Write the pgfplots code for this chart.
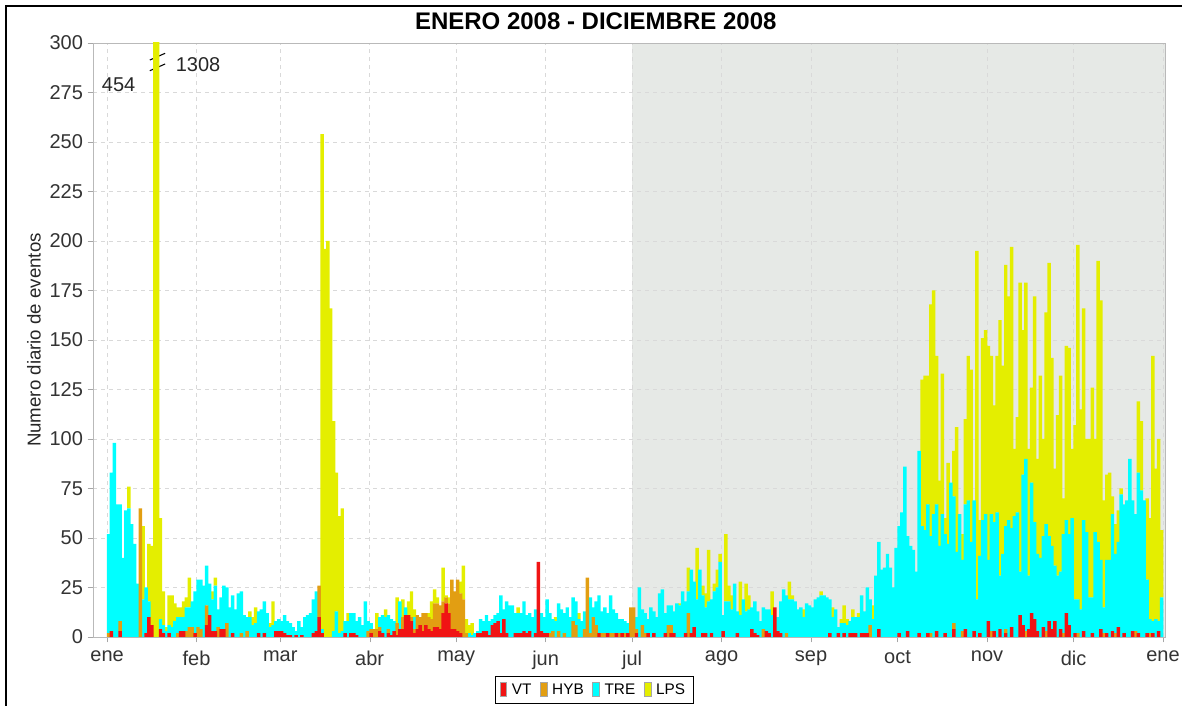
\documentclass[border=0pt]{standalone}
\usepackage{pgfplots}
\pgfplotsset{compat=1.18}
\usepackage{pgfplotstable}
\usepackage{fontspec}
\setmainfont{Liberation Sans}

\definecolor{vtc}{RGB}{240,20,20}
\definecolor{hybc}{RGB}{226,158,18}
\definecolor{trec}{RGB}{0,255,255}
\definecolor{lpsc}{RGB}{228,238,0}
\definecolor{bgshade}{RGB}{230,233,230}

% day vt hyb tre lps  (day 0 = 1 ene 2008)
\pgfplotstableread{
d vt hyb tre lps
0 0 2 50 0
1 3 0 80 0
2 0 0 98 0
3 0 0 67 0
4 3 5 59 0
5 0 0 40 0
6 0 0 64 0
7 0 0 65 11
8 0 0 57 0
9 0 0 47 0
10 0 0 27 0
11 0 65 0 0
12 0 0 19 37
13 2 0 23 0
14 10 0 8 29
15 6 0 0 40
16 0 0 0 454
17 0 0 0 1308
18 4 0 5 51
19 2 0 4 17
20 0 0 3 2
21 2 0 4 15
22 0 0 5 16
23 0 0 8 9
24 0 2 8 5
25 3 0 7 5
26 3 0 7 8
27 0 3 12 5
28 0 5 10 15
29 0 5 13 0
30 2 0 21 0
31 0 5 24 0
32 0 4 25 0
33 0 0 26 0
34 6 10 20 0
35 11 0 16 0
36 3 0 16 4
37 3 0 23 4
38 0 5 9 0
39 4 0 16 0
40 4 0 22 0
41 0 7 18 0
42 0 0 15 0
43 2 0 19 0
44 0 0 14 0
45 0 0 22 0
46 0 2 21 0
47 0 0 11 0
48 0 3 7 0
49 0 0 10 3
50 0 0 6 4
51 0 0 7 8
52 2 0 11 0
53 0 0 14 0
54 2 0 16 0
55 0 0 12 0
56 0 0 5 2
57 0 0 6 12
58 3 0 5 0
59 3 0 6 0
60 3 0 5 0
61 2 0 9 0
62 1 0 7 0
63 1 0 6 0
64 0 0 5 0
65 1 0 2 0
66 0 0 8 0
67 1 0 4 0
68 0 0 10 0
69 0 0 11 0
70 0 0 12 0
71 2 0 17 0
72 3 0 20 0
73 10 16 0 0
74 2 0 2 250
75 0 0 0 196
76 0 0 0 200
77 0 0 0 166
78 0 0 3 106
79 0 0 13 70
80 0 0 2 59
81 0 0 3 62
82 2 0 6 0
83 0 0 8 4
84 2 0 10 0
85 2 0 10 0
86 1 0 7 0
87 0 0 10 0
88 0 0 6 0
89 0 0 18 0
90 0 3 5 0
91 2 2 3 0
92 0 4 0 0
93 0 4 0 8
94 3 2 5 0
95 2 0 9 0
96 0 0 10 4
97 2 2 7 0
98 1 0 8 0
99 3 0 5 0
100 1 6 0 13
101 4 0 14 0
102 4 6 0 9
103 11 0 4 0
104 11 0 0 7
105 8 2 0 13
106 2 2 6 4
107 4 7 0 0
108 6 4 0 0
109 3 9 0 0
110 6 6 0 0
111 4 6 0 2
112 3 6 0 9
113 5 12 0 7
114 5 12 0 3
115 4 12 0 0
116 12 6 0 17
117 17 3 0 1
118 12 5 0 3
119 4 25 0 0
120 4 19 0 0
121 3 26 0 0
122 2 20 0 6
123 0 19 0 17
124 0 2 0 7
125 0 0 2 4
126 0 0 1 6
127 0 0 2 0
128 2 0 1 0
129 2 0 7 0
130 3 0 5 0
131 3 0 8 0
132 1 0 7 0
133 6 0 3 0
134 7 0 4 0
135 8 0 4 0
136 2 0 19 0
137 9 0 5 0
138 2 0 16 0
139 0 0 16 0
140 0 0 16 0
141 2 0 10 0
142 2 0 10 3
143 2 0 10 0
144 3 0 15 0
145 2 0 9 0
146 3 0 9 0
147 0 0 10 0
148 2 0 12 0
149 38 0 0 0
150 3 0 9 0
151 2 0 8 0
152 2 0 17 0
153 0 2 10 0
154 0 3 6 0
155 0 0 8 2
156 0 3 14 0
157 0 0 14 0
158 0 2 10 0
159 0 0 15 0
160 0 0 10 0
161 0 8 12 0
162 0 6 12 0
163 0 0 9 3
164 0 0 8 0
165 0 4 9 0
166 0 30 0 0
167 0 2 18 0
168 0 10 5 0
169 0 6 12 0
170 2 0 19 0
171 0 2 11 0
172 0 2 13 0
173 2 0 10 0
174 0 2 19 0
175 0 2 12 0
176 2 0 10 0
177 0 2 7 0
178 2 0 7 0
179 0 2 6 0
180 2 0 5 0
181 0 15 0 0
182 0 15 0 0
183 2 2 6 0
184 0 0 25 0
185 0 6 8 0
186 0 2 10 0
187 2 0 7 0
188 0 0 15 0
189 2 0 11 0
190 0 0 10 0
191 0 0 22 0
192 0 0 24 0
193 2 0 10 0
194 0 6 10 0
195 2 4 10 0
196 2 0 11 0
197 0 0 17 0
198 0 0 16 1
199 0 0 23 0
200 2 0 16 0
201 0 12 11 12
202 2 0 32 0
203 5 0 23 0
204 0 0 19 26
205 0 0 34 0
206 2 0 19 5
207 2 0 13 7
208 0 0 18 26
209 2 0 17 0
210 0 0 23 4
211 0 0 25 9
212 0 0 38 4
213 3 0 8 0
214 0 0 18 34
215 0 0 18 8
216 0 0 14 7
217 0 0 27 0
218 2 0 11 0
219 0 0 11 17
220 0 0 19 0
221 0 0 13 14
222 0 0 14 7
223 4 0 11 0
224 2 0 16 0
225 1 0 12 0
226 0 0 8 0
227 0 4 11 0
228 3 0 11 0
229 2 0 12 0
230 0 0 11 12
231 15 0 0 0
232 3 0 7 0
233 2 0 16 0
234 0 0 24 0
235 0 2 19 0
236 0 0 19 9
237 0 0 19 2
238 0 0 18 0
239 0 0 14 0
240 0 0 15 0
241 0 0 10 4
242 0 0 17 0
243 0 0 16 0
244 0 0 15 0
245 0 0 19 0
246 0 0 20 0
247 0 0 21 2
248 0 0 21 0
249 0 0 20 0
250 2 0 17 0
251 0 0 10 5
252 0 0 14 0
253 2 0 3 0
254 0 0 7 2
255 2 0 5 9
256 0 0 6 3
257 2 0 6 0
258 2 0 8 4
259 2 0 8 0
260 0 0 10 2
261 2 0 19 0
262 2 0 11 0
263 2 0 23 0
264 0 6 13 0
265 0 0 9 7
266 0 0 31 0
267 4 0 44 0
268 0 0 34 0
269 0 0 35 0
270 0 0 42 0
271 0 0 35 0
272 0 0 25 0
273 0 0 45 0
274 2 0 54 0
275 0 0 63 0
276 0 0 86 0
277 3 0 48 0
278 0 0 46 0
279 0 0 44 0
280 0 0 33 0
281 2 0 92 0
282 0 0 56 74
283 0 0 54 78
284 2 0 65 65
285 0 2 49 117
286 0 0 62 113
287 3 0 64 75
288 0 0 46 33
289 0 0 62 71
290 2 0 50 8
291 0 0 47 41
292 0 0 78 0
293 4 3 64 23
294 0 0 43 63
295 0 0 62 0
296 0 3 36 13
297 4 0 63 43
298 0 0 69 73
299 0 0 48 87
300 3 0 66 0
301 0 0 19 176
302 2 0 39 18
303 0 0 59 92
304 0 0 62 93
305 8 0 31 108
306 0 3 59 80
307 3 0 55 59
308 0 0 63 79
309 4 0 27 129
310 0 0 42 95
311 2 2 52 132
312 0 0 59 113
313 5 0 50 142
314 0 0 61 34
315 0 0 63 48
316 11 0 22 146
317 6 0 76 73
318 0 3 87 89
319 4 0 27 64
320 12 0 66 48
321 9 0 49 114
322 3 0 39 48
323 0 0 40 92
324 5 0 46 49
325 0 3 54 107
326 8 0 43 138
327 4 0 42 95
328 8 0 28 49
329 0 0 31 81
330 4 0 29 99
331 0 2 50 18
332 12 0 47 88
333 6 0 46 94
334 0 0 60 35
335 2 0 17 88
336 0 2 17 179
337 0 0 14 101
338 3 0 56 107
339 0 0 53 47
340 0 0 20 80
341 2 0 18 106
342 0 0 53 47
343 0 0 48 142
344 4 0 35 131
345 0 2 13 54
346 2 0 37 43
347 0 0 39 44
348 3 0 59 9
349 0 2 40 15
350 5 0 43 16
351 0 0 72 3
352 2 0 65 0
353 0 0 69 0
354 0 0 90 0
355 3 0 66 0
356 0 3 59 0
357 2 0 81 36
358 0 0 74 35
359 0 0 69 0
360 2 0 27 41
361 0 2 7 51
362 2 0 6 134
363 0 0 9 76
364 3 0 5 92
365 0 0 20 34
}\daily

\pgfplotsset{
  frame/.style={
    scale only axis,
    width=804pt, height=445.5pt,
    xmin=-4.9, xmax=366.7,
    ymin=0, ymax=300,
    enlargelimits=false,
    xtick={0,31,60,91,121,152,182,213,244,274,305,335,366},
    ytick={0,25,...,300},
  },
}

\begin{document}
\begin{tikzpicture}
% page = 1182 x 706 px at 0.75pt/px, axis box at px (93..1165, 43..637)
\path[use as bounding box] (-69.75pt,-51.75pt) rectangle (816.75pt,477.75pt);
\draw[black, line width=1.1pt] (-65.25pt,-51.75pt) -- (-65.25pt,473.25pt) -- (816.75pt,473.25pt);

% background: shaded second half of the year and dashed grid on top of it
\begin{axis}[
    frame,
    axis on top,
    grid=major,
    major grid style={dashed, gray!30},
    xticklabels={}, yticklabels={},
    axis line style={draw=none},
    tick style={draw=none},
  ]
  \fill[bgshade] (axis cs:182,0) rectangle (axis cs:366.7,300);
\end{axis}

\begin{axis}[
    frame,
    ybar stacked,
    bar width=1.2,
    xticklabels={ene,feb,mar,abr,may,jun,jul,ago,sep,oct,nov,dic,ene},
    tick pos=left,
    tick align=outside,
    major tick length=4pt,
    tick style={gray!70},
    axis line style={gray!55},
    /pgf/number format/assume math mode=true,
    tick label style={font=\fontsize{15}{18}\selectfont, color=black!80},
    xticklabel style={yshift=-3pt},
    ylabel={Numero diario de eventos},
    ylabel style={font=\fontsize{14}{16}\selectfont, color=black!85, at={(rel axis cs:-0.055,0.5)}, anchor=center},
    title={ENERO 2008 - DICIEMBRE 2008},
    title style={font=\fontsize{18}{21}\selectfont\bfseries, at={(rel axis cs:0.469,1.037)}, anchor=center, yshift=-6pt},
    legend columns=4,
    legend style={at={(rel axis cs:0.468,-0.089)}, anchor=center, draw=black, line width=0.8pt,
      font=\fontsize{11.5}{13}\selectfont, inner xsep=3pt, inner ysep=3.5pt,
      nodes={inner xsep=3.5pt},
      /tikz/every even column/.append style={column sep=3pt}},
    legend image code/.code={\draw[#1, draw=gray!70, line width=0.6pt] (0pt,-5.25pt) rectangle (5pt,5.25pt);},
  ]
  \addplot[fill=vtc, draw=none] table[x expr=\thisrow{d}+0.5, y=vt] {\daily};
  \addplot[fill=hybc, draw=none] table[x expr=\thisrow{d}+0.5, y=hyb] {\daily};
  \addplot[fill=trec, draw=none] table[x expr=\thisrow{d}+0.5, y=tre] {\daily};
  \addplot[fill=lpsc, draw=none] table[x expr=\thisrow{d}+0.5, y=lps] {\daily};
  \legend{VT,HYB,TRE,LPS}
  % off-scale values of 17 and 18 ene
  \node[font=\fontsize{15}{18}\selectfont, color=black!85] at (axis cs:4,278.8) {454};
  \node[font=\fontsize{15}{18}\selectfont, color=black!85] at (axis cs:31.5,288.9) {1308};
  \draw[black, line width=0.8pt] (axis cs:14.8,291.4) -- (axis cs:20.1,294.8);
  \draw[black, line width=0.8pt] (axis cs:14.8,286.0) -- (axis cs:20.1,289.4);
\end{axis}
\end{tikzpicture}
\end{document}
